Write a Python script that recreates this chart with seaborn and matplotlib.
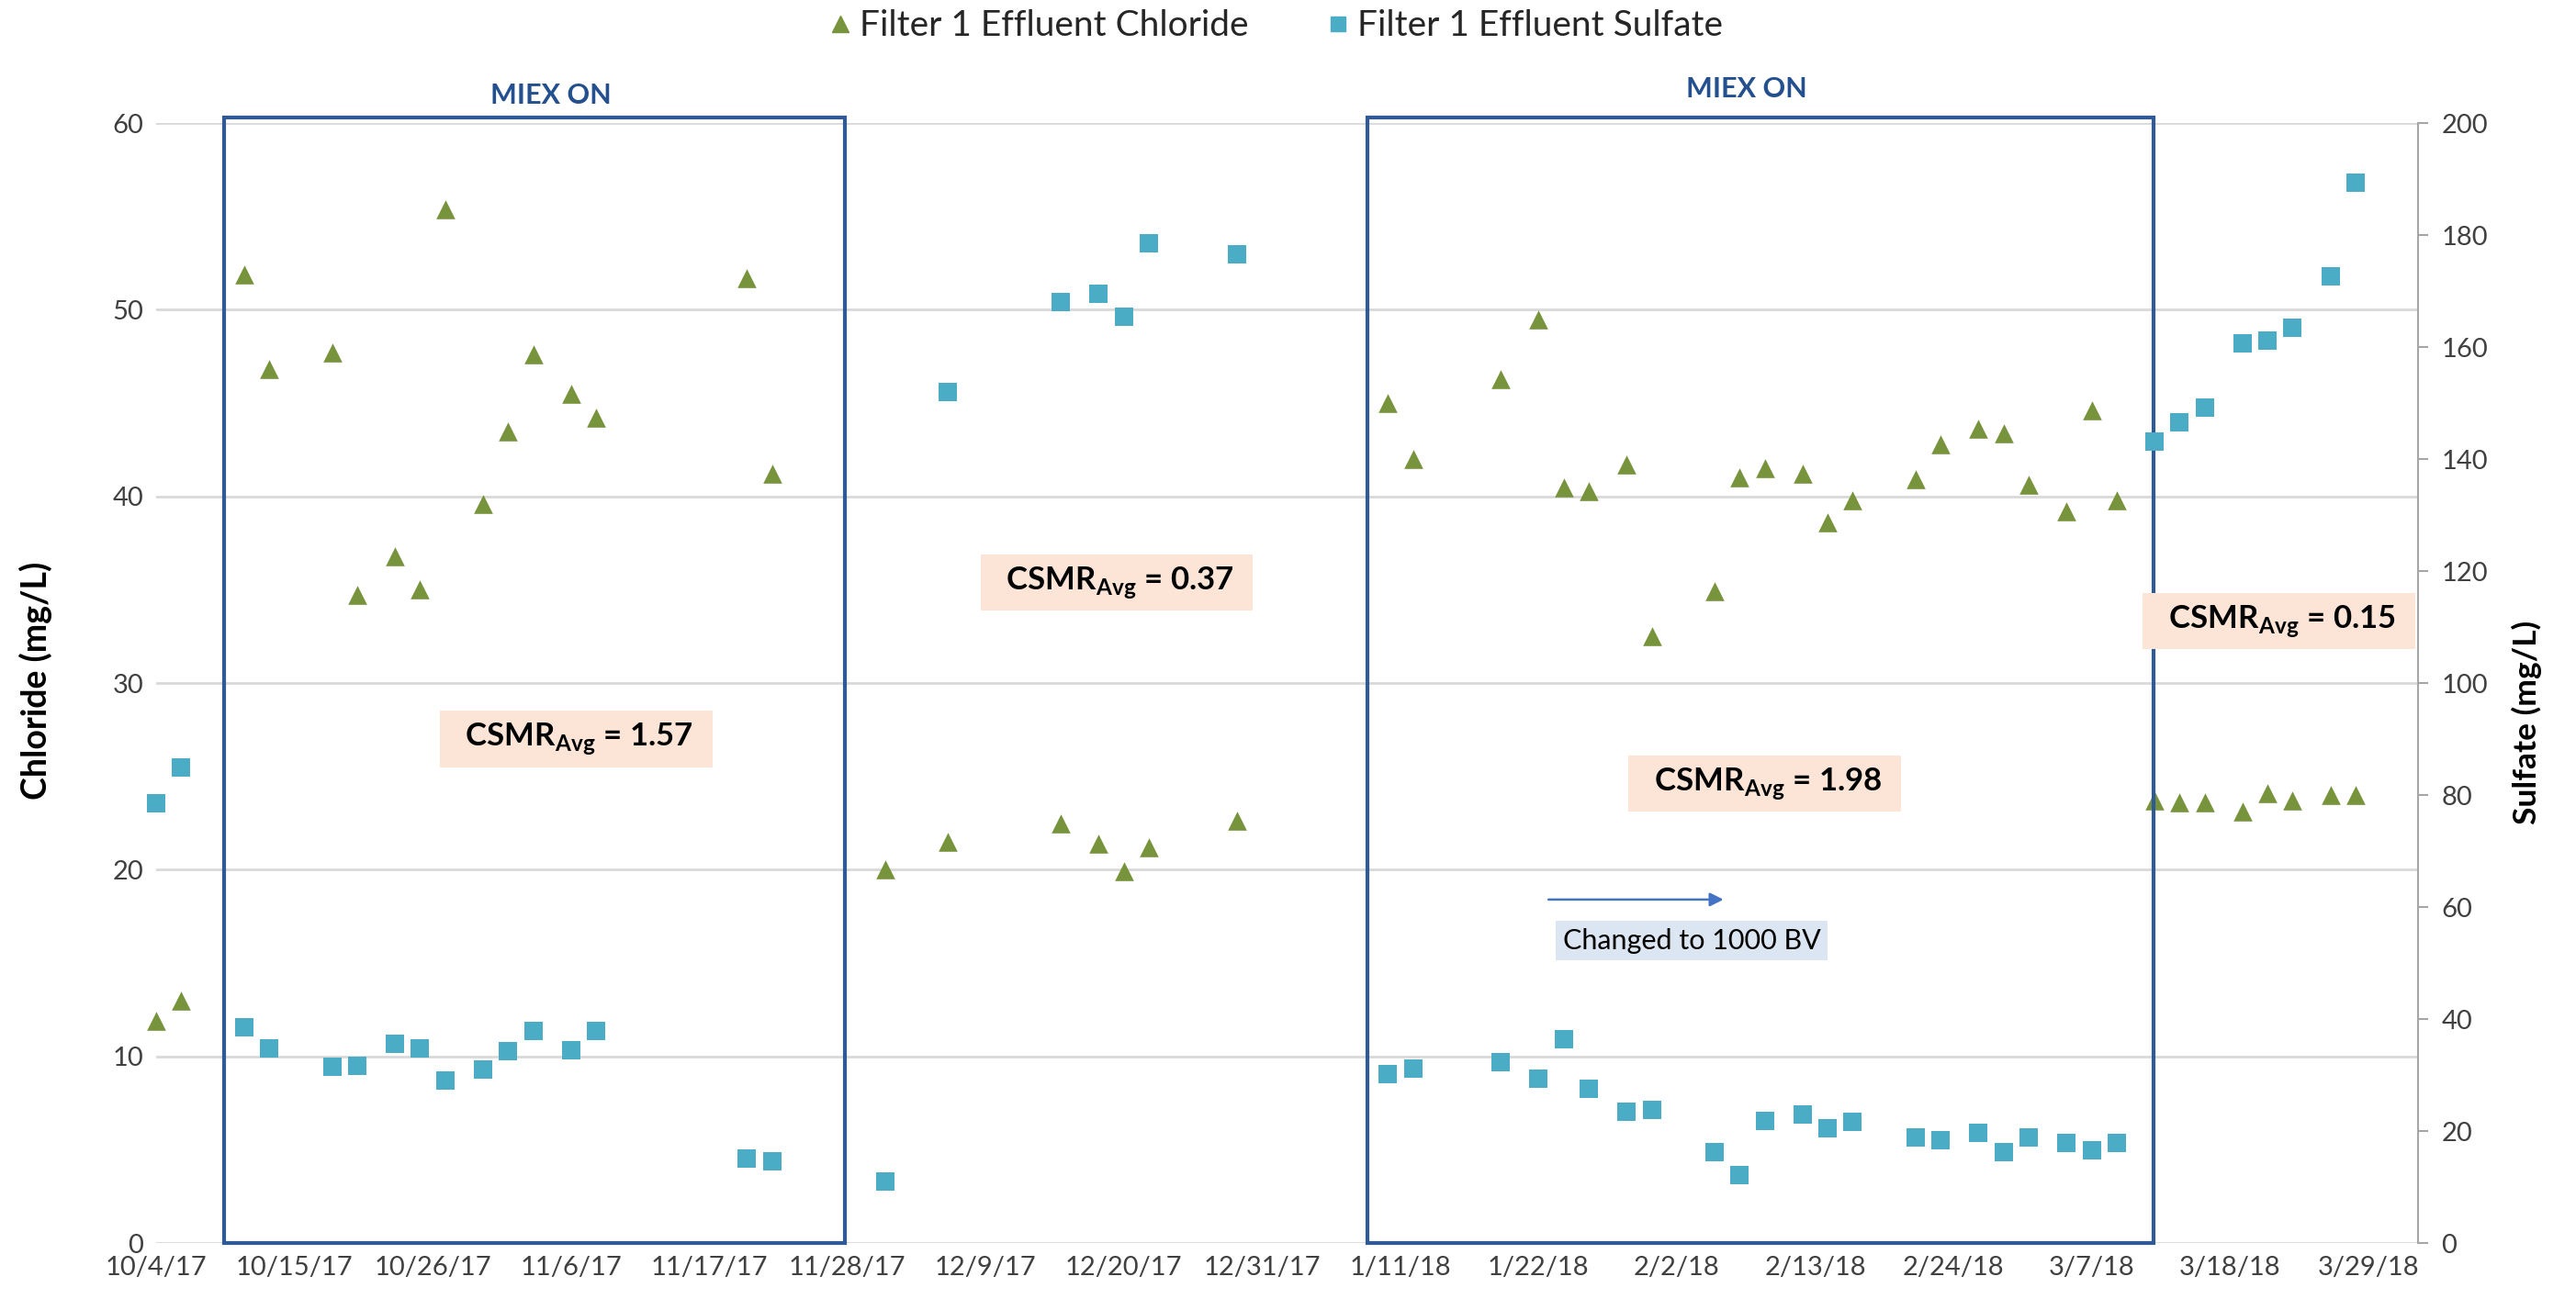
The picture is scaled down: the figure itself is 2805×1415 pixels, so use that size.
import matplotlib
matplotlib.use("Agg")
import matplotlib.pyplot as plt
import matplotlib.dates as mdates
from matplotlib.patches import Rectangle
from matplotlib.lines import Line2D
import seaborn as sns
import pandas as pd

sns.set_style("white")
plt.rcParams['font.family'] = ['Lato', 'DejaVu Sans']
plt.rcParams['mathtext.fontset'] = 'custom'
plt.rcParams['mathtext.bf'] = 'Lato:bold'
plt.rcParams['mathtext.rm'] = 'Lato'

# sample dates
dates = [
    '2017-10-04', '2017-10-06', '2017-10-11', '2017-10-13', '2017-10-18', '2017-10-20',
    '2017-10-23', '2017-10-25', '2017-10-27', '2017-10-30', '2017-11-01', '2017-11-03',
    '2017-11-06', '2017-11-08', '2017-11-20', '2017-11-22',
    '2017-12-01', '2017-12-06', '2017-12-15', '2017-12-18', '2017-12-20', '2017-12-22',
    '2017-12-29',
    '2018-01-10', '2018-01-12', '2018-01-19', '2018-01-22', '2018-01-24', '2018-01-26',
    '2018-01-29', '2018-01-31', '2018-02-05', '2018-02-07', '2018-02-09', '2018-02-12',
    '2018-02-14', '2018-02-16', '2018-02-21', '2018-02-23', '2018-02-26', '2018-02-28',
    '2018-03-02', '2018-03-05', '2018-03-07', '2018-03-09',
    '2018-03-12', '2018-03-14', '2018-03-16', '2018-03-19', '2018-03-21', '2018-03-23',
    '2018-03-26', '2018-03-28',
]
chloride = [
    11.9, 13.0, 51.9, 46.8, 47.7, 34.7, 36.8, 35.0, 55.4, 39.6, 43.5, 47.6, 45.5, 44.2, 51.7, 41.2,
    20.0, 21.5, 22.5, 21.4, 19.9, 21.2, 22.6,
    45.0, 42.0, 46.3, 49.5, 40.5, 40.3, 41.7, 32.5, 34.9, 41.0, 41.5, 41.2, 38.6, 39.8,
    40.9, 42.8, 43.6, 43.4, 40.6, 39.2, 44.6, 39.8,
    23.7, 23.6, 23.6, 23.1, 24.1, 23.7, 24.0, 24.0,
]
sulfate = [
    78.5, 85.0, 38.6, 34.8, 31.4, 31.7, 35.6, 34.8, 29.1, 31.0, 34.3, 37.8, 34.5, 37.8, 15.1, 14.6,
    11.0, 151.9, 168.0, 169.5, 165.4, 178.6, 176.5,
    30.2, 31.1, 32.3, 29.3, 36.4, 27.6, 23.5, 23.7, 16.3, 12.2, 21.8, 22.9, 20.5, 21.7,
    18.8, 18.4, 19.6, 16.2, 18.8, 17.8, 16.5, 17.8,
    143.1, 146.5, 149.2, 160.7, 161.1, 163.4, 172.7, 189.3,
]
miex_periods = [('2017-10-09 10:00', '2017-11-27 19:00'), ('2018-01-08 10:00', '2018-03-11 22:00')]
csmr_values = ['1.57', '0.37', '1.98', '0.15']
csmr_pos = [('2017-11-06 10:00', 27.0), ('2017-12-19 10:00', 35.4), ('2018-02-09 00:00', 24.6), ('2018-03-21 22:00', 33.3)]

df = pd.DataFrame({'date': pd.to_datetime(dates), 'chloride': chloride, 'sulfate': sulfate})

green = '#77933C'
aqua = '#4BACC6'
box_col = '#2F5A96'
txt_col = '#404040'

fig = plt.figure(figsize=(28.05, 14.15), dpi=100)
ax = fig.add_axes([0.0606, 0.0431, 0.8782, 0.8622])
ax2 = ax.twinx()

sns.scatterplot(data=df, x='date', y='chloride', marker='^', s=220, color=green,
                linewidth=0, ax=ax, clip_on=False, zorder=3)
sns.scatterplot(data=df, x='date', y='sulfate', marker='s', s=190, color=aqua,
                linewidth=0, ax=ax2, clip_on=False, zorder=3)

x0 = pd.Timestamp('2017-10-04')
x1 = pd.Timestamp('2018-04-02')
ax.set_xlim(x0, x1)
ax.set_ylim(0, 60)
ax2.set_ylim(0, 200)
ax.set_yticks(range(0, 61, 10))
ax2.set_yticks(range(0, 201, 20))
ticks = pd.date_range(x0, periods=17, freq='11D')
ax.set_xticks(ticks)
ax.set_xticklabels([f"{d.month}/{d.day}/{d.strftime('%y')}" for d in ticks])

ax.grid(axis='y', color='#D9D9D9', lw=2)
ax.set_axisbelow(True)
for s in ['top', 'left', 'right', 'bottom']:
    ax.spines[s].set_visible(False)
for s in ['top', 'left', 'bottom']:
    ax2.spines[s].set_visible(False)
ax2.spines['right'].set_color('#A6A6A6')
ax2.spines['right'].set_linewidth(1.5)

ax.tick_params(axis='both', length=0, labelsize=21, labelcolor=txt_col, pad=10)
ax2.tick_params(axis='y', length=8, width=1.5, color='#A6A6A6', labelsize=21, labelcolor=txt_col, pad=10)

ax.set_xlabel('')
ax.set_ylabel('Chloride (mg/L)', fontsize=27, fontweight='bold', color='black')
ax2.set_ylabel('Sulfate (mg/L)', fontsize=25.5, fontweight='bold', color='black')
ax.yaxis.set_label_coords(-0.046, 0.502)
ax2.yaxis.set_label_coords(1.0414, 0.465)

# MIEX ON boxes
for a, b in miex_periods:
    xa = mdates.date2num(pd.Timestamp(a))
    xb = mdates.date2num(pd.Timestamp(b))
    ax.add_patch(Rectangle((xa, 0), xb - xa, 60.3, fill=False, edgecolor=box_col,
                           lw=3, zorder=4, clip_on=False))
ax.text(pd.Timestamp('2017-11-04 10:00'), 61.5, 'MIEX ON', ha='center', va='center',
        fontsize=22, fontweight='bold', color='#24508F', clip_on=False)
ax.text(pd.Timestamp('2018-02-07 14:00'), 61.8, 'MIEX ON', ha='center', va='center',
        fontsize=22, fontweight='bold', color='#24508F', clip_on=False)

for val, (d, yv) in zip(csmr_values, csmr_pos):
    ax.text(pd.Timestamp(d), yv, '  CSMR$_{\\mathbf{Avg}}$ = ' + val + '  ', ha='center', va='center',
            fontsize=25, fontweight='bold', color='black', zorder=5,
            bbox=dict(boxstyle='square,pad=0.32', facecolor='#FCE4D6', edgecolor='none'))

ax.annotate('', xy=(pd.Timestamp('2018-02-05 22:00'), 18.4),
            xytext=(pd.Timestamp('2018-01-22 14:00'), 18.4),
            arrowprops=dict(arrowstyle='-|>', color='#4472C4', lw=1.8, mutation_scale=22))
ax.text(pd.Timestamp('2018-02-03 05:00'), 16.2, 'Changed to 1000 BV', ha='center', va='center',
        fontsize=22, color='black', zorder=5,
        bbox=dict(boxstyle='square,pad=0.25', facecolor='#DCE6F2', edgecolor='none'))

handles = [Line2D([], [], marker='^', color=green, lw=0, markersize=13),
           Line2D([], [], marker='s', color=aqua, lw=0, markersize=12)]
fig.legend(handles, ['Filter 1 Effluent Chloride', 'Filter 1 Effluent Sulfate'],
           loc='center', bbox_to_anchor=(0.494, 0.98), ncol=2, frameon=False,
           fontsize=28, handletextpad=0.05, columnspacing=2.0, handlelength=1.0,
           labelcolor='#262626')

fig.savefig('out.png', dpi=100)
